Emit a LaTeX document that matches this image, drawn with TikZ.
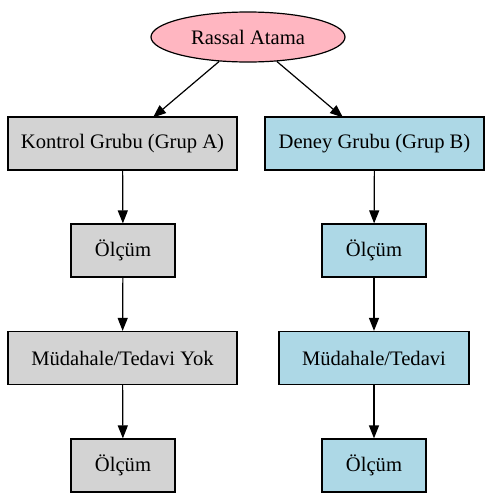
\documentclass[tikz,border=0pt]{standalone}
\usepackage{fontspec}
\setmainfont{Liberation Serif}
\usetikzlibrary{shapes.geometric,arrows.meta}
\definecolor{lpink}{HTML}{FFB6C1}
\definecolor{lgray}{HTML}{D3D3D3}
\definecolor{lblue}{HTML}{ADD8E6}
\begin{document}
\begin{tikzpicture}[x=1pt,y=-1pt,
  every node/.style={font=\fontsize{20.6pt}{23pt}\selectfont, inner sep=0pt, draw=black, line width=1.2pt},
  gbox/.style={rectangle, fill=lgray, minimum height=53pt},
  bbox/.style={rectangle, fill=lblue, minimum height=53pt},
  conn/.style={line width=1.2pt, -{Triangle[length=13pt,width=10pt]}}]
\useasboundingbox (0,0) rectangle (493,504);
\node[ellipse, fill=lpink, minimum width=194pt, minimum height=50pt] (root) at (248,37) {Rassal Atama};
\node[gbox, minimum width=229pt] (k) at (122.5,143.5) {Kontrol Grubu (Grup A)};
\node[bbox, minimum width=219pt] (d) at (374.5,143.5) {Deney Grubu (Grup B)};
\node[gbox, minimum width=104pt] (k1) at (123,250.5) {Ölçüm};
\node[bbox, minimum width=104pt] (d1) at (374,250.5) {Ölçüm};
\node[gbox, minimum width=229pt] (k2) at (122.5,358) {Müdahale/Tedavi Yok};
\node[bbox, minimum width=190pt] (d2) at (374,358) {Müdahale/Tedavi};
\node[gbox, minimum width=104pt] (k3) at (123,465.5) {Ölçüm};
\node[bbox, minimum width=104pt] (d3) at (374,465.5) {Ölçüm};
\draw[conn] (root) -- (153,117.5);
\draw[conn] (root) -- (343,117.5);
\draw[conn] (k) -- (k1);
\draw[conn] (k1) -- (k2);
\draw[conn] (k2) -- (k3);
\draw[conn] (d) -- (d1);
\draw[conn] (d1) -- (d2);
\draw[conn] (d2) -- (d3);
\end{tikzpicture}
\end{document}
